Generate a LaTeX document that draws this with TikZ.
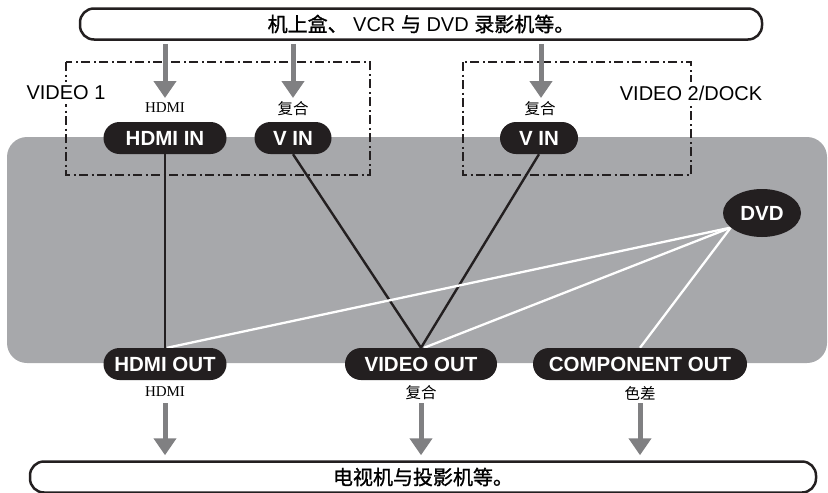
\documentclass[tikz,border=0pt]{standalone}
\usepackage{fontspec}
\setmainfont{Liberation Sans}
\newfontfamily\cjk{Noto Sans CJK SC}
\newfontfamily\cjkb{Noto Sans CJK SC}[FakeBold=1.2]
\newfontfamily\serifl{Liberation Serif}
\usetikzlibrary{arrows.meta,shapes.geometric}
\definecolor{panelgray}{HTML}{A7A8AB}
\definecolor{arrgray}{HTML}{808082}
\definecolor{nodeblack}{HTML}{231F20}
\pgfdeclarelayer{back}
\pgfdeclarelayer{mid}
\pgfsetlayers{back,mid,main}
\tikzset{
  port/.style={fill=nodeblack, text=white, rounded corners=16pt, minimum height=32pt,
    inner xsep=4pt, inner ysep=0pt, font=\fontsize{20.5}{22}\selectfont\bfseries},
  bar/.style={draw=nodeblack, line width=2.5pt, rounded corners=14pt, minimum height=31pt,
    inner sep=0pt, font=\fontsize{20}{22}\selectfont},
  small/.style={inner sep=0pt, font=\fontsize{15}{16}\selectfont},
  grouplbl/.style={fill=white, inner xsep=2pt, inner ysep=4pt, font=\fontsize{20}{22}\selectfont},
  groupbox/.style={draw=nodeblack, line width=2.2pt, dash pattern=on 9pt off 3.5pt on 2pt off 3.5pt},
  feed/.style={draw=arrgray, line width=5pt, -{Triangle[width=22pt,length=17pt]}},
  wire/.style={draw=nodeblack, line width=2.4pt},
  wwire/.style={draw=white, line width=2.3pt}
}
\begin{document}
\begin{tikzpicture}[x=1pt,y=-1pt]
\useasboundingbox (0,0) rectangle (828,493);
% gray panel
\begin{pgfonlayer}{back}
\fill[panelgray, rounded corners=20pt] (7,137) rectangle (827,363);
\end{pgfonlayer}
% bars
\node[bar, minimum width=682pt] (top) at (421,24)
  {{\cjkb 机上盒、} VCR {\cjkb 与} DVD {\cjkb 录影机等。}};
\node[bar, minimum width=786pt] (bot) at (423,477)
  {\cjkb 电视机与投影机等。};
% group boxes
\begin{pgfonlayer}{mid}
\draw[groupbox] (66,62) rectangle (370,175);
\draw[groupbox] (463,62) rectangle (691,175);
\end{pgfonlayer}
\node[grouplbl] (g1) at (66,93) {VIDEO 1};
\node[grouplbl] (g2) at (691,93) {VIDEO 2/DOCK};
% ports
\node[port, minimum width=123pt] (hin) at (165,138) {HDMI IN};
\node[port, minimum width=77pt] (vin1) at (293,138) {V IN};
\node[port, minimum width=78pt] (vin2) at (539,138) {V IN};
\node[port, minimum width=123pt] (hout) at (165,364) {HDMI OUT};
\node[port, minimum width=152pt] (vout) at (421,364) {VIDEO OUT};
\node[port, minimum width=214pt] (cout) at (640,364) {COMPONENT OUT};
\node[fill=nodeblack, text=white, ellipse, minimum width=78pt, minimum height=48pt, inner sep=0pt,
  font=\fontsize{20.5}{22}\selectfont\bfseries] (dvd) at (762,213) {DVD};
% small labels
\node[small, font=\fontsize{15}{16}\selectfont\serifl] (lh1) at (165,108) {HDMI};
\node[small, font=\fontsize{15.5}{16}\selectfont\cjk] (lc1) at (293,109) {复合};
\node[small, font=\fontsize{15.5}{16}\selectfont\cjk] (lc2) at (540,109) {复合};
\node[small, font=\fontsize{15}{16}\selectfont\serifl] (lh2) at (165,392) {HDMI};
\node[small, font=\fontsize{15.5}{16}\selectfont\cjk] (lc3) at (421,393) {复合};
\node[small, font=\fontsize{15.5}{16}\selectfont\cjk] (lc4) at (640,393) {色差};
% arrows
\coordinate (t1) at (165,98);
\coordinate (t2) at (293,98);
\coordinate (t3) at (541,98);
\draw[feed] ([yshift=-3pt]top.south -| t1) -- (t1);
\draw[feed] ([yshift=-3pt]top.south -| t2) -- (t2);
\draw[feed] ([yshift=-3pt]top.south -| t3) -- (t3);
\coordinate (b1) at (165,403);
\coordinate (b2) at (421,403);
\coordinate (b3) at (640,403);
\draw[feed, shorten >=5pt] (b1) -- (bot.north -| b1);
\draw[feed, shorten >=5pt] (b2) -- (bot.north -| b2);
\draw[feed, shorten >=5pt] (b3) -- (bot.north -| b3);
% wires
\begin{pgfonlayer}{mid}
\draw[wire] (hin.south) -- (hout.north);
\draw[wire] (vin1.south) -- (vout.north);
\draw[wire] (vin2.south) -- (vout.north);
\draw[wwire] (dvd.205) -- ([xshift=2pt]hout.north);
\draw[wwire] (dvd.205) -- ([xshift=3pt]vout.north);
\draw[wwire] (dvd.205) -- (cout.north);
\end{pgfonlayer}
\end{tikzpicture}
\end{document}
